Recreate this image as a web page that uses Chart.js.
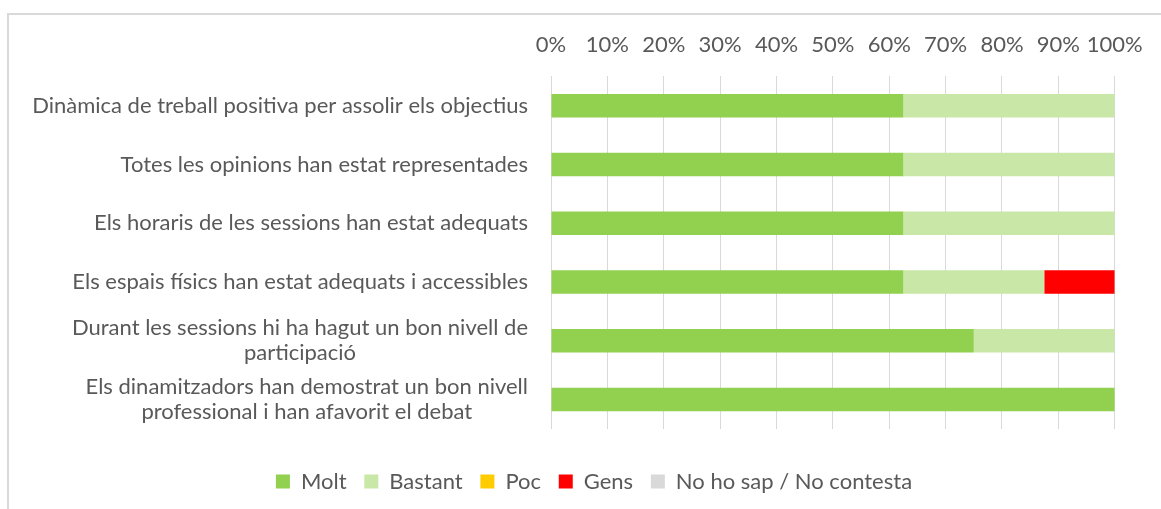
<!DOCTYPE html>
<html>
<head>
<meta charset="utf-8">
<script src="https://cdn.jsdelivr.net/npm/chart.js@4.4.1/dist/chart.umd.min.js"></script>
<style>
html,body{margin:0;padding:0;background:#fff;}
#wrap{position:relative;width:1161px;height:509px;}
</style>
</head>
<body>
<div id="wrap"><canvas id="c" width="1161" height="509"></canvas></div>
<script>
const categories = [
  "Dinàmica de treball positiva per assolir els objectius",
  "Totes les opinions han estat representades",
  "Els horaris de les sessions han estat adequats",
  "Els espais físics han estat adequats i accessibles",
  ["Durant les sessions hi ha hagut un bon nivell de", "participació"],
  ["Els dinamitzadors han demostrat un bon nivell", "professional i han afavorit el debat"]
];
const seriesNames = ["Molt", "Bastant", "Poc", "Gens", "No ho sap / No contesta"];
const molt    = [62.5, 62.5, 62.5, 62.5, 75, 100];
const bastant = [37.5, 37.5, 37.5, 25, 25, 0];
const poc     = [0, 0, 0, 0, 0, 0];
const gens    = [0, 0, 0, 12.5, 0, 0];
const nsnc    = [0, 0, 0, 0, 0, 0];
const xTicks  = [0, 10, 20, 30, 40, 50, 60, 70, 80, 90, 100];
const colors  = ["#92D050", "#C9E7A7", "#FFCC00", "#FF0000", "#D9D9D9"];

const FONT = 'Lato';
const FSIZE = 22;
const TXT = '#595959';

const frame = {
  id: 'frame',
  beforeDraw(chart) {
    const ctx = chart.ctx;
    ctx.save();
    ctx.fillStyle = '#fff';
    ctx.fillRect(0, 0, chart.width, chart.height);
    ctx.fillStyle = '#D9D9D9';
    ctx.fillRect(7, 13, 2, 600);
    ctx.fillRect(7, 13, 1300, 2);
    ctx.restore();
  }
};

const yLabels = {
  id: 'yLabels',
  afterDraw(chart) {
    const ctx = chart.ctx;
    const ys = chart.scales.y;
    const right = chart.chartArea.left - 23;
    const lh = 25;
    ctx.save();
    ctx.font = FSIZE + 'px ' + FONT;
    ctx.fillStyle = TXT;
    ctx.textBaseline = 'middle';
    ctx.textAlign = 'center';
    categories.forEach((lab, i) => {
      const lines = Array.isArray(lab) ? lab : [lab];
      const w = Math.max(...lines.map(l => ctx.measureText(l).width));
      const cx = right - w / 2;
      const yc = ys.getPixelForValue(i);
      const y0 = yc - (lines.length - 1) * lh / 2;
      lines.forEach((l, k) => ctx.fillText(l, cx, y0 + k * lh));
    });
    ctx.restore();
  }
};

const data = {
  labels: categories,
  datasets: [molt, bastant, poc, gens, nsnc].map((d, i) => ({
    label: seriesNames[i],
    data: d,
    backgroundColor: colors[i],
    borderWidth: 0,
    barPercentage: 0.4,
    categoryPercentage: 1.0
  }))
};

new Chart(document.getElementById('c'), {
  type: 'bar',
  data,
  plugins: [frame, yLabels],
  options: {
    indexAxis: 'y',
    responsive: false,
    animation: false,
    devicePixelRatio: 1,
    layout: { padding: { top: 13.3, left: 70, right: 43, bottom: 6.5 } },
    scales: {
      x: {
        position: 'top',
        stacked: true,
        min: 0,
        max: 100,
        afterBuildTicks(s) { s.ticks = xTicks.map(v => ({ value: v })); },
        ticks: {
          autoSkip: false,
          maxRotation: 0,
          padding: 18.3,
          color: TXT,
          font: { family: FONT, size: FSIZE },
          callback: v => v + '%'
        },
        grid: { color: '#D9D9D9', lineWidth: 1, drawTicks: false },
        border: { display: false }
      },
      xb: {
        type: 'linear',
        position: 'bottom',
        display: true,
        grid: { display: false },
        ticks: { display: false },
        border: { display: false },
        afterFit(s) { s.height = 23.75; }
      },
      y: {
        stacked: true,
        grid: { display: false },
        border: { display: false },
        ticks: { display: false },
        afterFit(s) { s.width = 481; }
      }
    },
    plugins: {
      legend: {
        position: 'bottom',
        labels: {
          boxWidth: 14,
          boxHeight: 14,
          padding: 17.75,
          color: TXT,
          font: { family: FONT, size: FSIZE }
        }
      },
      tooltip: { enabled: false }
    }
  }
});
</script>
</body>
</html>
